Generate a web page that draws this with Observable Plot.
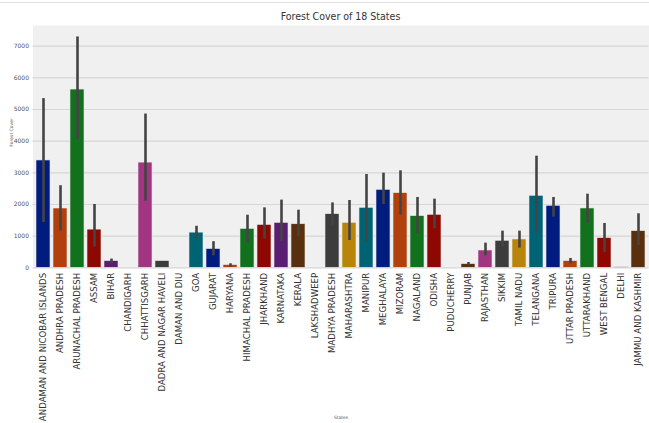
<!DOCTYPE html>
<html>
<head>
<meta charset="utf-8">
<script src="https://cdn.jsdelivr.net/npm/d3@7"></script>
<script src="https://cdn.jsdelivr.net/npm/@observablehq/plot@0.6"></script>
<style>
  html, body { margin: 0; padding: 0; background: #fff; }
  #wrap { width: 649px; height: 423px; position: relative; overflow: hidden; }
  #topline { position: absolute; left: 0; top: 2px; width: 649px; height: 0; border-top: 1px solid #dedede; }
  #title { height: 25px; width: 649px; box-sizing: border-box; padding-left: 32px; text-align: center;
           font-family: "Liberation Sans Narrow", "DejaVu Sans Condensed", sans-serif; font-size: 10.5px; color: #333;
           line-height: 25px; padding-top: 4px; }
  svg { display: block; }
</style>
</head>
<body>
<div id="wrap">
  <div id="topline"></div>
  <div id="title">Forest Cover of 18 States</div>
  <div id="chart"></div>
</div>
<script>
const states = [
  "ANDAMAN AND NICOBAR ISLANDS", "ANDHRA PRADESH", "ARUNACHAL PRADESH", "ASSAM", "BIHAR",
  "CHANDIGARH", "CHHATTISGARH", "DADRA AND NAGAR HAVELI", "DAMAN AND DIU", "GOA",
  "GUJARAT", "HARYANA", "HIMACHAL PRADESH", "JHARKHAND", "KARNATAKA",
  "KERALA", "LAKSHADWEEP", "MADHYA PRADESH", "MAHARASHTRA", "MANIPUR",
  "MEGHALAYA", "MIZORAM", "NAGALAND", "ODISHA", "PUDUCHERRY",
  "PUNJAB", "RAJASTHAN", "SIKKIM", "TAMIL NADU", "TELANGANA",
  "TRIPURA", "UTTAR PRADESH", "UTTARAKHAND", "WEST BENGAL", "DELHI",
  "JAMMU AND KASHMIR"
];
const forestCover = [
  3390, 1873, 5630, 1206, 212,
  0, 3323, 212, 0, 1111,
  593, 85, 1228, 1354, 1418,
  1376, 0, 1694, 1421, 1895,
  2463, 2358, 1632, 1674, 0,
  116, 547, 853, 895, 2274,
  1958, 211, 1874, 937, 15,
  1158
];
const errLow = [
  1430, 1164, 4042, 656, 127,
  null, 2106, null, null, 921,
  381, 21, 783, 910, 825,
  995, null, 1340, 863, 800,
  2000, 1663, 1084, 1232, null,
  63, 379, 653, 621, 1084,
  1600, 126, 1400, 484, null,
  705
];
const errHigh = [
  5344, 2593, 7291, 2000, 275,
  null, 4857, null, null, 1312,
  825, 127, 1661, 1894, 2138,
  1820, null, 2050, 2126, 2947,
  2989, 3063, 2221, 2168, null,
  168, 779, 1158, 1158, 3526,
  2221, 295, 2326, 1400, null,
  1705
];
const yTicks = [0, 1000, 2000, 3000, 4000, 5000, 6000, 7000];
const palette = ["#001c7f", "#b1400d", "#12711c", "#8c0800", "#591e71",
                 "#592f0d", "#a23582", "#3c3c3c", "#b8850a", "#006374"];

const rows = states.map((s, i) => ({state: s, value: forestCover[i], lo: errLow[i], hi: errHigh[i]}));
const errRows = rows.filter(d => d.lo != null && d.hi != null);

const chart = Plot.plot({
  width: 649,
  height: 398,
  marginLeft: 32.5,
  marginRight: 0.5,
  marginTop: 0,
  marginBottom: 155.7,
  style: { fontFamily: "DejaVu Sans, sans-serif", background: "#fff" },
  x: { domain: states, padding: 0.2, label: null },
  y: { domain: [0, 7653], label: null },
  color: { type: "ordinal", domain: states, range: states.map((_, i) => palette[i % palette.length]) },
  marks: [
    Plot.frame({ fill: "#f0f0f0", stroke: null }),
    Plot.gridY(yTicks, { stroke: "#d6d6d6", strokeOpacity: 1, strokeWidth: 1.2 }),
    Plot.barY(rows, { x: "state", y: "value", fill: "state", stroke: "#e8e8e8", strokeWidth: 0.6 }),
    Plot.ruleX(errRows, { x: "state", y1: "lo", y2: "hi", stroke: "#444", strokeWidth: 2.6 }),
    Plot.axisY({ ticks: yTicks, tickFormat: d3.format("d"), tickSize: 0, tickPadding: 4, fontSize: 6, fill: "#555", label: null }),
    Plot.axisX({ tickSize: 0, tickPadding: 5, tickRotate: -90, fontSize: 8.6, fill: "#333", label: null }),
    Plot.text(["Forest Cover"], { frameAnchor: "left", dx: -21, rotate: -90, fontSize: 4.5, fill: "#555", text: d => d }),
    Plot.text(["States"], { frameAnchor: "bottom", dy: 151, fontSize: 4.5, fill: "#555", text: d => d })
  ]
});
document.getElementById("chart").appendChild(chart);
</script>
</body>
</html>
